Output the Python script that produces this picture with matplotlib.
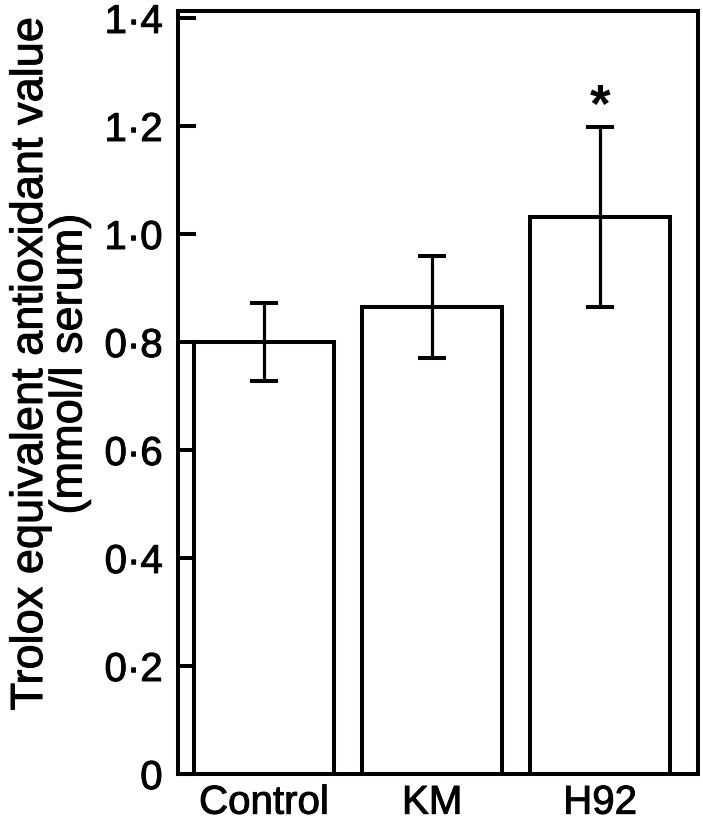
import numpy as np
import matplotlib.pyplot as plt
import matplotlib.patheffects as pe

plt.rcParams['font.family'] = ['Liberation Sans', 'DejaVu Sans']

groups = ['Control', 'KM', 'H92']
teac = [0.80, 0.865, 1.032]
sem = [0.073, 0.095, 0.167]
marks = ['', '', '*']
yticks = [0, 0.2, 0.4, 0.6, 0.8, 1.0, 1.2, 1.4]
ytick_labels = ['0', '0·2', '0·4', '0·6', '0·8', '1·0', '1·2', '1·4']

# slightly heavier text, the original type is a medium weight
heavy = [pe.withStroke(linewidth=0.7, foreground='black')]

fig = plt.figure(figsize=(7.03, 8.24), dpi=100)
ax = fig.add_axes([0.2532, 0.0607, 0.7397, 0.926])

x = np.arange(len(groups))
ax.bar(x, teac, width=0.833, color='white', edgecolor='black', linewidth=2.9, zorder=2)
ax.errorbar(x, teac, yerr=sem, fmt='none', ecolor='black', elinewidth=2.3,
            capsize=10, capthick=2.9, zorder=3)

for xi, yi, e, m in zip(x, teac, sem, marks):
    if m:
        ax.text(xi, yi + e + 0.035, m, ha='center', va='center',
                fontsize=38, fontweight='bold')

ax.set_xlim(-0.512, 2.583)
ax.set_ylim(0, 1.413)
ax.set_xticks(x)
ax.set_xticklabels(groups)
ax.set_yticks(yticks)
ax.set_yticklabels(ytick_labels)
ax.tick_params(axis='y', direction='in', length=13, width=2.9, labelsize=29, pad=11)
ax.tick_params(axis='x', length=0, labelsize=29, pad=7)
for s in ax.spines.values():
    s.set_linewidth(2.9)

ax.set_ylabel('Trolox equivalent antioxidant value\n(mmol/l serum)', fontsize=32.5,
              linespacing=0.95, labelpad=10)
ax.yaxis.label.set_y(0.537)

for t in ax.get_xticklabels() + ax.get_yticklabels() + [ax.yaxis.label]:
    t.set_path_effects(heavy)

fig.savefig('out.png', dpi=100)
